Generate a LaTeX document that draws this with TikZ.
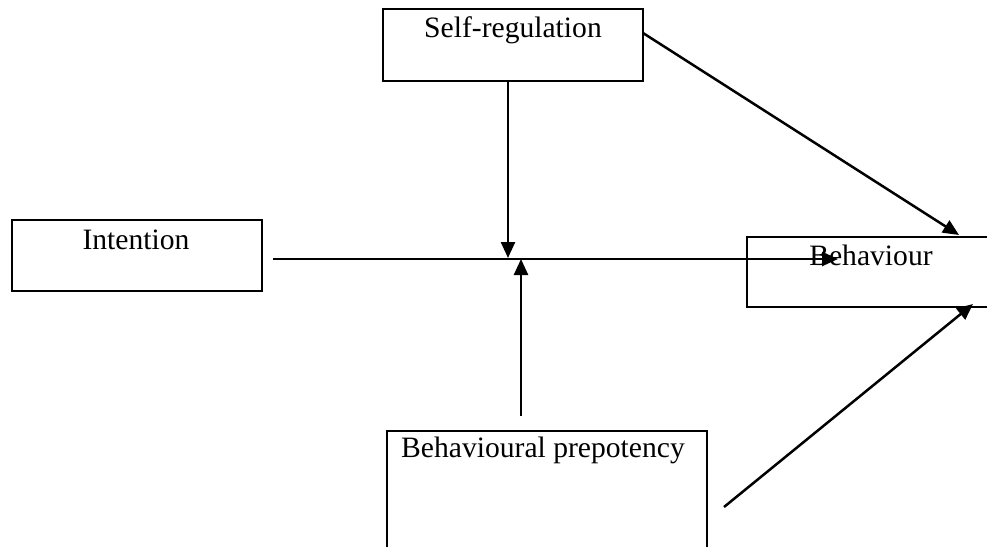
\documentclass[tikz,border=0pt]{standalone}
\usepackage{fontspec}
\setmainfont{Liberation Serif}
\usetikzlibrary{arrows.meta}
\begin{document}
\begin{tikzpicture}[x=1pt,y=-1pt,
  box/.style={draw, line width=2.6pt, rectangle, inner sep=0pt},
  lbl/.style={anchor=base, inner sep=0pt, font=\fontsize{29.6}{34}\selectfont},
  conn/.style={line width=2.5pt, -{Triangle[length=16pt,width=14pt]}},
  plainline/.style={line width=2.5pt}]
\useasboundingbox (0,0) rectangle (987,546);
\clip (0,0) rectangle (987,546);
\fill[white] (0,0) rectangle (987,546);
% boxes
\node[box, minimum width=260pt, minimum height=72pt] (sr) at (513,45) {};
\node[box, minimum width=250pt, minimum height=71pt] (int) at (137,255.5) {};
\node[box, minimum width=250pt, minimum height=70pt] (beh) at (872,272) {};
\node[box, minimum width=320pt, minimum height=150pt] (bp) at (547,506) {};
% labels
\node[lbl] (srl) at (513,37) {Self-regulation};
\node[lbl] (intl) at (136,249) {Intention};
\node[lbl] (behl) at (871,265) {Behaviour};
\node[lbl] (bpl) at (543,457) {Behavioural prepotency};
% connector end points
\coordinate (hs) at (273,259);
\coordinate (he) at (838,259);
\coordinate (ds) at (508,81);
\coordinate (de) at (508,258);
\coordinate (us) at (521,416);
\coordinate (ue) at (521,259);
\coordinate (d1s) at (643,33);
\coordinate (d1e) at (959,235);
\coordinate (d2s) at (724,507);
\coordinate (d2e) at (973,304);
% connectors
\draw[conn] (hs) -- (he);
\draw[conn] (ds) -- (de);
\draw[conn] (us) -- (ue);
\draw[conn] (d1s) -- (d1e);
\draw[conn] (d2s) -- (d2e);
\end{tikzpicture}
\end{document}
